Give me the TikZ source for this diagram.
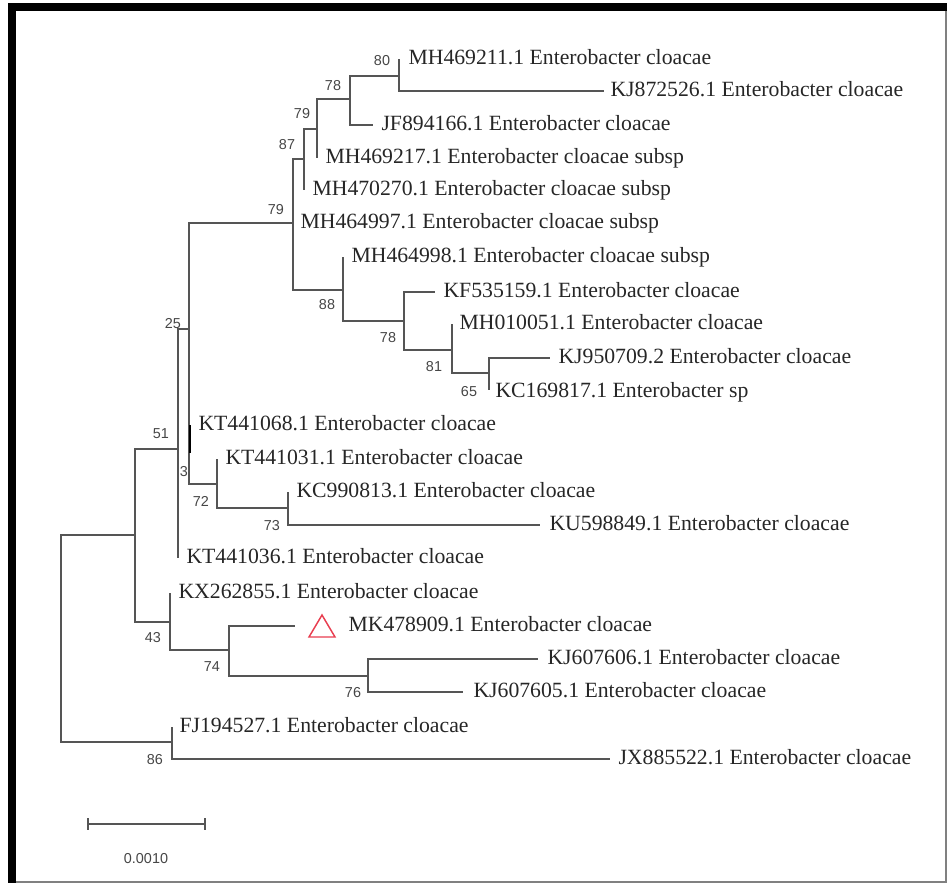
\documentclass[tikz,border=0pt]{standalone}
\usepackage{fontspec}
\setmainfont{Liberation Serif}
\newfontfamily\bootfont{Liberation Sans}
\usetikzlibrary{positioning}

\definecolor{branchgray}{RGB}{85,85,85}
\definecolor{leafgray}{RGB}{38,38,38}
\definecolor{bootgray}{RGB}{70,70,70}
\definecolor{markred}{RGB}{232,62,80}

\tikzset{every picture/.style={line width=0.75pt}}
\tikzset{
  branch/.style={draw=branchgray, line width=1.2pt},
  leaf/.style={anchor=base west, inner sep=0pt, text=leafgray, font=\fontsize{16.3}{18}\selectfont},
  boot/.style={inner sep=0pt, text=bootgray, font=\bootfont\fontsize{10.8}{12}\selectfont},
}

\begin{document}
\begin{tikzpicture}[x=0.75pt,y=0.75pt,yscale=-1,xscale=1]
\useasboundingbox (0,0) rectangle (947,883);

%Frame
\fill[black] (8,3) rectangle (947,11);
\fill[black] (8,3) rectangle (16,883);
\draw[gray, line width=0.8pt] (946,11) -- (946,882) -- (16,882);

%Inner nodes of the tree
\coordinate (root) at (61,638);
\coordinate (n51) at (135,535);
\coordinate (nA) at (178,449);
\coordinate (nB) at (189,329);
\coordinate (n79o) at (293,223);
\coordinate (n87) at (304,159);
\coordinate (n79i) at (317,129);
\coordinate (n78u) at (350,99);
\coordinate (n80) at (399,76);
\coordinate (n88) at (343,290);
\coordinate (n78l) at (404,321);
\coordinate (n81) at (452,350);
\coordinate (n65) at (489,373);
\coordinate (n72) at (217,484);
\coordinate (n73) at (288,508);
\coordinate (n43) at (170,622);
\coordinate (n74) at (229,650);
\coordinate (n76) at (368,676);
\coordinate (n86) at (172,742);

%Tips
\coordinate (t01) at (399,59);
\coordinate (t02) at (604,91);
\coordinate (t03) at (373,125);
\coordinate (t04) at (317,158);
\coordinate (t05) at (304,190);
\coordinate (t06) at (293,223);
\coordinate (t07) at (343,257);
\coordinate (t08) at (435,292);
\coordinate (t09) at (452,324);
\coordinate (t10) at (550,358);
\coordinate (t11) at (489,390);
\coordinate (t12) at (190,425);
\coordinate (t13) at (217,459);
\coordinate (t14) at (288,492);
\coordinate (t15) at (540,525);
\coordinate (t16) at (178,558);
\coordinate (t17) at (170,593);
\coordinate (t18) at (295,626);
\coordinate (t19) at (538,659);
\coordinate (t20) at (463,692);
\coordinate (t21) at (172,727);
\coordinate (t22) at (610,759);

%Branches
\draw[branch] (root) |- (n51) (root) |- (n86);
\draw[branch] (n51) |- (nA) (n51) |- (n43);
\draw[branch] (nA) |- (nB) (nA) |- (t16);
\draw[branch] (nB) |- (n79o) (nB) |- (t12) (nB) |- (n72);
\draw[branch] (n79o) |- (n87) (n79o) |- (n88);
\draw[branch] (n87) |- (n79i) (n87) |- (t05);
\draw[branch] (n79i) |- (n78u) (n79i) |- (t04);
\draw[branch] (n78u) |- (n80) (n78u) |- (t03);
\draw[branch] (n80) |- (t01) (n80) |- (t02);
\draw[branch] (n88) |- (t07) (n88) |- (n78l);
\draw[branch] (n78l) |- (t08) (n78l) |- (n81);
\draw[branch] (n81) |- (t09) (n81) |- (n65);
\draw[branch] (n65) |- (t10) (n65) |- (t11);
\draw[branch] (n72) |- (t13) (n72) |- (n73);
\draw[branch] (n73) |- (t14) (n73) |- (t15);
\draw[branch] (n43) |- (t17) (n43) |- (n74);
\draw[branch] (n74) |- (t18) (n74) |- (n76);
\draw[branch] (n76) |- (t19) (n76) |- (t20);
\draw[branch] (n86) |- (t21) (n86) |- (t22);
\draw[black, line width=2pt] (t12) -- ++(0,28);

%Marker of the new isolate
\draw[markred, line width=1.1pt] (309,637) -- (335,637) -- (322,615) -- cycle;

% Text Node
\node[leaf] (l01) at ([shift={(9,5)}]t01) {MH469211.1 Enterobacter cloacae};
\node[leaf] (l02) at ([shift={(6,5)}]t02) {KJ872526.1 Enterobacter cloacae};
\node[leaf] (l03) at ([shift={(8,5)}]t03) {JF894166.1 Enterobacter cloacae};
\node[leaf] (l04) at ([shift={(8,5)}]t04) {MH469217.1 Enterobacter cloacae subsp};
\node[leaf] (l05) at ([shift={(8,5)}]t05) {MH470270.1 Enterobacter cloacae subsp};
\node[leaf] (l06) at ([shift={(7,5)}]t06) {MH464997.1 Enterobacter cloacae subsp};
\node[leaf] (l07) at ([shift={(8,5)}]t07) {MH464998.1 Enterobacter cloacae subsp};
\node[leaf] (l08) at ([shift={(8,5)}]t08) {KF535159.1 Enterobacter cloacae};
\node[leaf] (l09) at ([shift={(7,5)}]t09) {MH010051.1 Enterobacter cloacae};
\node[leaf] (l10) at ([shift={(8,5)}]t10) {KJ950709.2 Enterobacter cloacae};
\node[leaf] (l11) at ([shift={(6,7)}]t11) {KC169817.1 Enterobacter sp};
\node[leaf] (l12) at ([shift={(8,5)}]t12) {KT441068.1 Enterobacter cloacae};
\node[leaf] (l13) at ([shift={(8,5)}]t13) {KT441031.1 Enterobacter cloacae};
\node[leaf] (l14) at ([shift={(8,5)}]t14) {KC990813.1 Enterobacter cloacae};
\node[leaf] (l15) at ([shift={(9,5)}]t15) {KU598849.1 Enterobacter cloacae};
\node[leaf] (l16) at ([shift={(8,5)}]t16) {KT441036.1 Enterobacter cloacae};
\node[leaf] (l17) at ([shift={(8,5)}]t17) {KX262855.1 Enterobacter cloacae};
\node[leaf] (l18) at ([shift={(53,5)}]t18) {MK478909.1 Enterobacter cloacae};
\node[leaf] (l19) at ([shift={(9,5)}]t19) {KJ607606.1 Enterobacter cloacae};
\node[leaf] (l20) at ([shift={(10,5)}]t20) {KJ607605.1 Enterobacter cloacae};
\node[leaf] (l21) at ([shift={(7,5)}]t21) {FJ194527.1 Enterobacter cloacae};
\node[leaf] (l22) at ([shift={(8,5)}]t22) {JX885522.1 Enterobacter cloacae};

% Bootstrap values
\node[boot] (b80) at (382,61) {80};
\node[boot] (b78u) at (333,86) {78};
\node[boot] (b79i) at (302,114) {79};
\node[boot] (b87) at (287,145) {87};
\node[boot] (b79o) at (276,210) {79};
\node[boot] (b88) at (327,305) {88};
\node[boot] (b78l) at (388,338) {78};
\node[boot] (b81) at (434,367) {81};
\node[boot] (b65) at (469,392) {65};
\node[boot] (b25) at (173,324) {25};
\node[boot] (b51) at (161,434) {51};
\node[boot] (b3) at (184,472) {3};
\node[boot] (b72) at (201,501) {72};
\node[boot] (b73) at (272,526) {73};
\node[boot] (b43) at (153,638) {43};
\node[boot] (b74) at (212,667) {74};
\node[boot] (b76) at (353,693) {76};
\node[boot] (b86) at (155,760) {86};

%Scale bar
\coordinate (sb0) at (88,824);
\coordinate (sb1) at (205,824);
\draw[branch] (sb0) -- (sb1);
\draw[branch] (sb0) ++(0,-6) -- ++(0,12);
\draw[branch] (sb1) ++(0,-6) -- ++(0,12);
\node[boot] (sbl) at (146,859) {0.0010};

\end{tikzpicture}
\end{document}
